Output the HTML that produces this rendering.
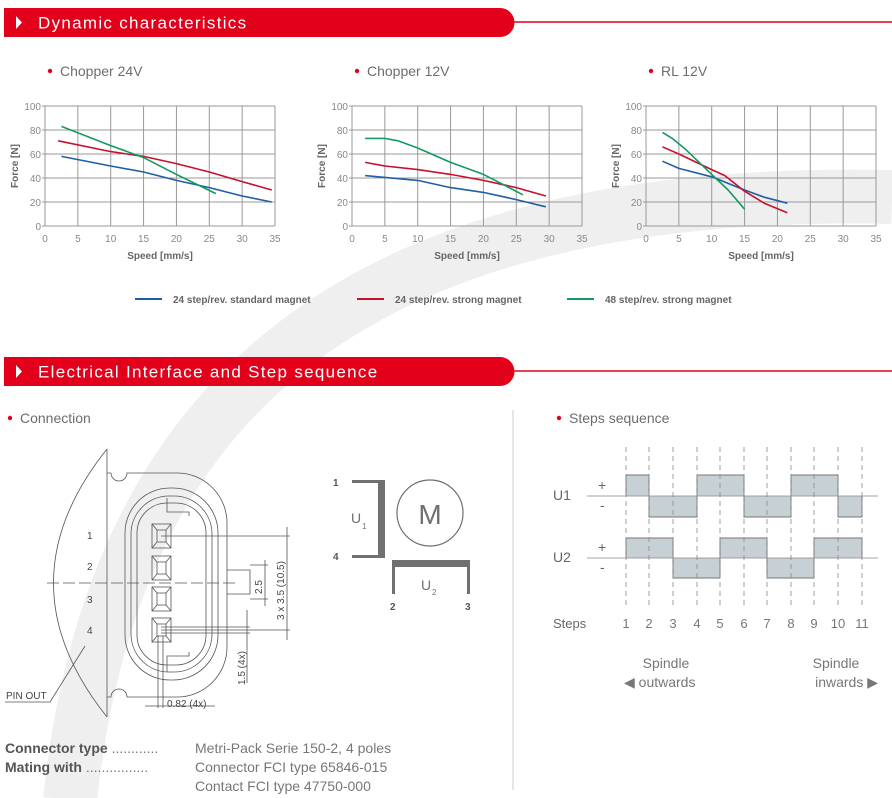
<!DOCTYPE html>
<html><head><meta charset="utf-8">
<style>
html,body{margin:0;padding:0;background:#fff;}
body{width:892px;height:798px;position:relative;overflow:hidden;font-family:"Liberation Sans","DejaVu Sans",sans-serif;}
svg{position:absolute;left:0;top:0;}
</style></head>
<body>
<svg id="s" width="892" height="798" viewBox="0 0 892 798" font-family="Liberation Sans, DejaVu Sans, sans-serif">
<!-- swoosh -->
<path d="M70,800 C110,420 330,185 892,197" fill="none" stroke="#efefef" stroke-width="54"/>
<!-- banners -->
<path d="M4,8 H500 A14,14 0 0 1 500,37 H4 Z" fill="#e2001a"/>
<line x1="512" y1="22" x2="892" y2="22" stroke="#e2001a" stroke-width="1.5"/>
<path d="M16,16 L22,22.5 L16,29 Z" fill="#fff"/>
<text x="38" y="28.5" font-size="17" fill="#fff" letter-spacing="1.3">Dynamic characteristics</text>
<path d="M4,357 H500 A14,14 0 0 1 500,386 H4 Z" fill="#e2001a"/>
<line x1="512" y1="371" x2="892" y2="371" stroke="#e2001a" stroke-width="1.5"/>
<path d="M16,365 L22,371.5 L16,378 Z" fill="#fff"/>
<text x="38" y="377.5" font-size="17" fill="#fff" letter-spacing="1.3">Electrical Interface and Step sequence</text>

<g font-size="14" fill="#6d6d6d">
<circle cx="50" cy="71" r="2.2" fill="#e2001a"/><text x="60" y="76">Chopper 24V</text>
<circle cx="357" cy="71" r="2.2" fill="#e2001a"/><text x="367" y="76">Chopper 12V</text>
<circle cx="651" cy="71" r="2.2" fill="#e2001a"/><text x="661" y="76">RL 12V</text>
<circle cx="10" cy="418" r="2.2" fill="#e2001a"/><text x="20" y="423">Connection</text>
<circle cx="559" cy="418" r="2.2" fill="#e2001a"/><text x="569" y="423">Steps sequence</text>
</g>
<g id="charts"></g>
<!-- legend -->
<g font-size="10" font-weight="bold" fill="#666">
<line x1="135" y1="299" x2="162" y2="299" stroke="#1f5fa6" stroke-width="2"/><text x="173" y="303">24 step/rev. standard magnet</text>
<line x1="357" y1="299" x2="384" y2="299" stroke="#c8102e" stroke-width="2"/><text x="395" y="303">24 step/rev. strong magnet</text>
<line x1="567" y1="299" x2="594" y2="299" stroke="#139a60" stroke-width="2"/><text x="605" y="303">48 step/rev. strong magnet</text>
</g>
<line x1="513" y1="410" x2="513" y2="790" stroke="#ccc" stroke-width="1"/>

<!-- connector -->
<g fill="none" stroke="#555" stroke-width="0.8">
<path d="M107,449 Q0,583 107,717"/>
<line x1="107" y1="449" x2="107" y2="717"/>
<path d="M107,473 H111 A8,8 0 0 0 127,473 H178 A50,50 0 0 1 227,523 V647 A50,50 0 0 1 178,697 H127 A8,8 0 0 0 111,697 H107"/>
<rect x="125" y="488" width="93" height="192" rx="45"/>
<rect x="131" y="496" width="81" height="176" rx="38"/>
<rect x="137" y="503" width="69" height="162" rx="30"/>
<path d="M167,498 V512 H189 V516 M167,672 V656 H189 V652"/>
<path d="M227,570 H250 V594 H227"/>
<line x1="47" y1="583" x2="237" y2="583" stroke-dasharray="12,4"/>
<g id="pins"></g>
<line x1="161" y1="536" x2="290" y2="536"/>
<line x1="161" y1="630" x2="290" y2="630"/>
<line x1="287" y1="527" x2="287" y2="640"/>
<line x1="250" y1="565" x2="268" y2="565"/>
<line x1="250" y1="599" x2="268" y2="599"/>
<line x1="265" y1="560" x2="265" y2="606"/>
<line x1="161" y1="627" x2="250" y2="627"/>
<line x1="161" y1="633" x2="250" y2="633"/>
<line x1="247" y1="610" x2="247" y2="683"/>
<line x1="158" y1="636" x2="158" y2="708"/>
<line x1="163" y1="636" x2="163" y2="708"/>
<line x1="145" y1="706" x2="215" y2="706"/>
<path d="M5,702 H50 L85,646"/>
</g>
<g font-size="10" fill="#444">
<text x="87" y="539">1</text><text x="87" y="570">2</text><text x="87" y="603">3</text><text x="87" y="634">4</text>
<text x="6" y="699">PIN OUT</text>
<text x="167" y="707">0.82 (4x)</text>
<text transform="translate(262,594) rotate(-90)">2.5</text>
<text transform="translate(284,620) rotate(-90)">3 x 3.5 (10.5)</text>
<text transform="translate(245,685) rotate(-90)">1.5 (4x)</text>
</g>
<!-- motor -->
<g fill="#707070">
<rect x="352" y="480" width="32" height="3"/>
<rect x="378" y="480" width="7" height="78"/>
<rect x="352" y="555" width="32" height="3"/>
<rect x="392" y="560" width="78" height="7"/>
<rect x="392" y="560" width="3" height="34"/>
<rect x="467" y="560" width="3" height="34"/>
</g>
<circle cx="430" cy="513" r="33" fill="none" stroke="#707070" stroke-width="1.2"/>
<text x="430" y="524" font-size="28" fill="#707070" text-anchor="middle">M</text>
<g fill="#555" font-size="10" font-weight="bold">
<text x="333" y="486">1</text><text x="333" y="560">4</text><text x="390" y="610">2</text><text x="465" y="610">3</text>
</g>
<g fill="#707070" font-size="14"><text x="351" y="523">U</text><text x="421" y="590">U</text></g>
<g fill="#707070" font-size="8"><text x="362" y="529">1</text><text x="432" y="595">2</text></g>

<!-- steps -->
<g id="steps"></g>
<g font-size="14" fill="#666">
<text x="553" y="500">U1</text><text x="553" y="562">U2</text>
<text x="598" y="490">+</text><text x="600" y="510">-</text>
<text x="598" y="552">+</text><text x="600" y="572">-</text>
<text x="553" y="628" font-size="13">Steps</text>
</g>
<g font-size="14" fill="#777">
<text x="666" y="668" text-anchor="middle">Spindle</text>
<text x="624" y="687">◀ outwards</text>
<text x="836" y="668" text-anchor="middle">Spindle</text>
<text x="878" y="687" text-anchor="end">inwards ▶</text>
</g>
<!-- bottom -->
<g font-size="14" fill="#777">
<text x="5" y="753"><tspan fill="#555" font-weight="bold">Connector type</tspan> ............</text>
<text x="5" y="772"><tspan fill="#555" font-weight="bold">Mating with</tspan> ................</text>
<text x="195" y="753">Metri-Pack Serie 150-2, 4 poles</text>
<text x="195" y="772">Connector FCI type 65846-015</text>
<text x="195" y="791">Contact FCI type 47750-000</text>
</g>
</svg>
<script>
var NS="http://www.w3.org/2000/svg";
function el(p,t,a,txt){var e=document.createElementNS(NS,t);for(var k in a)e.setAttribute(k,a[k]);if(txt!=null)e.textContent=txt;p.appendChild(e);return e;}
var g=document.getElementById('charts');
var data=[
 {x0:45,b:[[2.5,58],[10,50],[15,45],[20,38],[25,32],[30,25],[34.5,20]],r:[[2,71],[10,62],[15,58],[20,52],[25,45],[30,37],[34.5,30]],gr:[[2.5,83],[10,67],[15,57],[20,43],[26,27]]},
 {x0:352,b:[[2,42],[10,38],[15,32],[20,28],[25,22],[29.5,16]],r:[[2,53],[5,50],[10,47],[15,43],[20,38],[25,32],[29.5,25]],gr:[[2,73],[5,73],[7,71],[10,65],[15,53],[20,43],[22.5,36],[26,26]]},
 {x0:646,b:[[2.5,54],[5,48],[10,41],[15,30],[18,24],[21.5,19]],r:[[2.5,66],[5,60],[10,47],[12,42],[15,29],[18,19],[21.5,11]],gr:[[2.5,78],[4,73],[6,64],[10,43],[12.5,30],[15,14]]}
];
data.forEach(function(c){
 var X=function(v){return c.x0+v*230/35},Y=function(f){return 226-f*1.2};
 for(var i=0;i<=7;i++){el(g,'line',{x1:X(i*5),y1:106,x2:X(i*5),y2:226,stroke:'#999','stroke-width':1});
  el(g,'text',{x:X(i*5),y:242,'font-size':10,fill:'#888','text-anchor':'middle'},String(i*5));}
 for(var j=0;j<=5;j++){el(g,'line',{x1:c.x0-3,y1:Y(j*20),x2:c.x0+230,y2:Y(j*20),stroke:'#999','stroke-width':1});
  el(g,'text',{x:c.x0-4,y:Y(j*20)+4,'font-size':10,fill:'#888','text-anchor':'end'},String(j*20));}
 el(g,'text',{x:c.x0+115,y:259,'font-size':10,'font-weight':'bold',fill:'#666','text-anchor':'middle'},'Speed [mm/s]');
 el(g,'text',{transform:'translate('+(c.x0-27)+',166) rotate(-90)','font-size':10,'font-weight':'bold',fill:'#666','text-anchor':'middle'},'Force [N]');
 [['b','#1f5fa6'],['r','#c8102e'],['gr','#139a60']].forEach(function(s){
  el(g,'polyline',{points:c[s[0]].map(function(p){return X(p[0])+','+Y(p[1])}).join(' '),fill:'none',stroke:s[1],'stroke-width':1.6,'stroke-linejoin':'round'});});
});
var pins=document.getElementById('pins');
[524,556,587,618].forEach(function(y){
 el(pins,'rect',{x:152,y:y,width:19,height:24});
 el(pins,'rect',{x:157,y:y+6,width:9,height:12});
 el(pins,'line',{x1:152,y1:y,x2:157,y2:y+6});el(pins,'line',{x1:171,y1:y,x2:166,y2:y+6});
 el(pins,'line',{x1:152,y1:y+24,x2:157,y2:y+18});el(pins,'line',{x1:171,y1:y+24,x2:166,y2:y+18});
});
var st=document.getElementById('steps');
var xs=[626,649,673,697,720,744,767,791,814,838,862];
var u1=[1,-1,-1,1,1,-1,-1,1,1,-1],u2=[1,1,-1,-1,1,1,-1,-1,1,1];
function wave(base,h,arr){
 for(var i=0;i<10;i++){var y=arr[i]>0?base-h:base;el(st,'rect',{x:xs[i],y:y,width:xs[i+1]-xs[i],height:h,fill:'#c7d0d5',stroke:'none'});}
 var d='M'+xs[0]+','+base;
 for(var i=0;i<10;i++){var y=arr[i]>0?base-h:base+h;d+=' L'+xs[i]+','+y+' L'+xs[i+1]+','+y;}
 d+=' L'+xs[10]+','+base;
 el(st,'path',{d:d,fill:'none',stroke:'#777','stroke-width':1});
 el(st,'line',{x1:587,y1:base,x2:878,y2:base,stroke:'#888','stroke-width':0.8});
}
wave(496,21,u1);wave(558,20,u2);
xs.forEach(function(x,i){el(st,'line',{x1:x,y1:447,x2:x,y2:607,stroke:'#888','stroke-width':0.8,'stroke-dasharray':'5,4'});
 el(st,'text',{x:x,y:628,'font-size':13,fill:'#777','text-anchor':'middle'},String(i+1));});
</script>
</body></html>
